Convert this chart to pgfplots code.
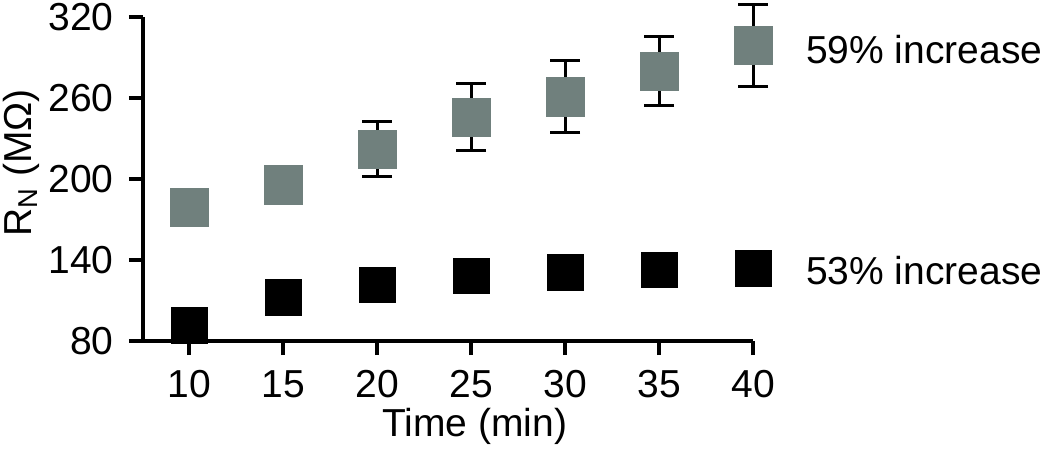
\documentclass[border=0pt]{standalone}
\usepackage{pgfplots}
\pgfplotsset{compat=1.18}
\usepackage{fontspec}
\setmainfont{Liberation Sans}
\definecolor{sqgray}{RGB}{112,128,125}
\begin{document}
\fontsize{19.5}{23}\selectfont
\begin{tikzpicture}
\useasboundingbox (-71.5pt,-54.5pt) rectangle (453.5pt,170.5pt);
\begin{axis}[
  at={(0,0)}, anchor=south west,
  scale only axis, width=305pt, height=162pt,
  xmin=7.55, xmax=40, ymin=80, ymax=320,
  axis x line*=bottom, axis y line*=left,
  axis line style={-, line width=1.6pt},
  xtick={10,15,...,40}, ytick={80,140,200,260,320},
  tick align=outside, major tick length=7pt,
  tick style={line width=1.6pt, black},
  /pgf/number format/assume math mode=true,
  ticklabel style={font=\fontsize{19.5}{23}\selectfont},
  yticklabel style={xshift=-1pt},
  xticklabel style={yshift=-1pt},
  label style={font=\fontsize{19.5}{23}\selectfont},
  xlabel={Time (min)},
  xlabel style={at={(axis description cs:0.544,-0.265)}, anchor=center},
  ylabel={R\textsubscript{N} (MΩ)},
  ylabel style={at={(axis description cs:-0.2,0.55)}, anchor=center},
  clip=false,
]
% error bars for gray series
\addplot[draw=none, mark=none, forget plot,
  error bars/.cd, y dir=both, y explicit,
  error bar style={line width=1.5pt, black},
  error mark options={rotate=90, mark size=7.5pt, line width=1.5pt, black}]
  table[x=t, y=v, y error=e] {
t v e
10 179 11
15 196 11
20 222 20.5
25 246 25
30 261 26.5
35 280 25.7
40 299 30.5
};
% gray squares
\addplot[only marks, mark=square*, mark size=9.6pt,
  mark options={fill=sqgray, draw=sqgray, line width=0.1pt}]
  table[x=t, y=v] {
t v
10 179
15 196
20 222
25 246
30 261
35 280
40 299
};
% black squares
\addplot[only marks, mark=square*, mark size=8.9pt,
  mark options={fill=black, draw=black, line width=0.1pt}]
  table[x=t, y=v] {
t v
10 92
15 112.6
20 121.9
25 128.3
30 131
35 132.8
40 134
};
\node[anchor=base west, inner sep=0pt] at (axis cs:42.8,285.9) {59\% increase};
\node[anchor=base west, inner sep=0pt] at (axis cs:42.8,121.5) {53\% increase};
\end{axis}
\end{tikzpicture}
\end{document}
